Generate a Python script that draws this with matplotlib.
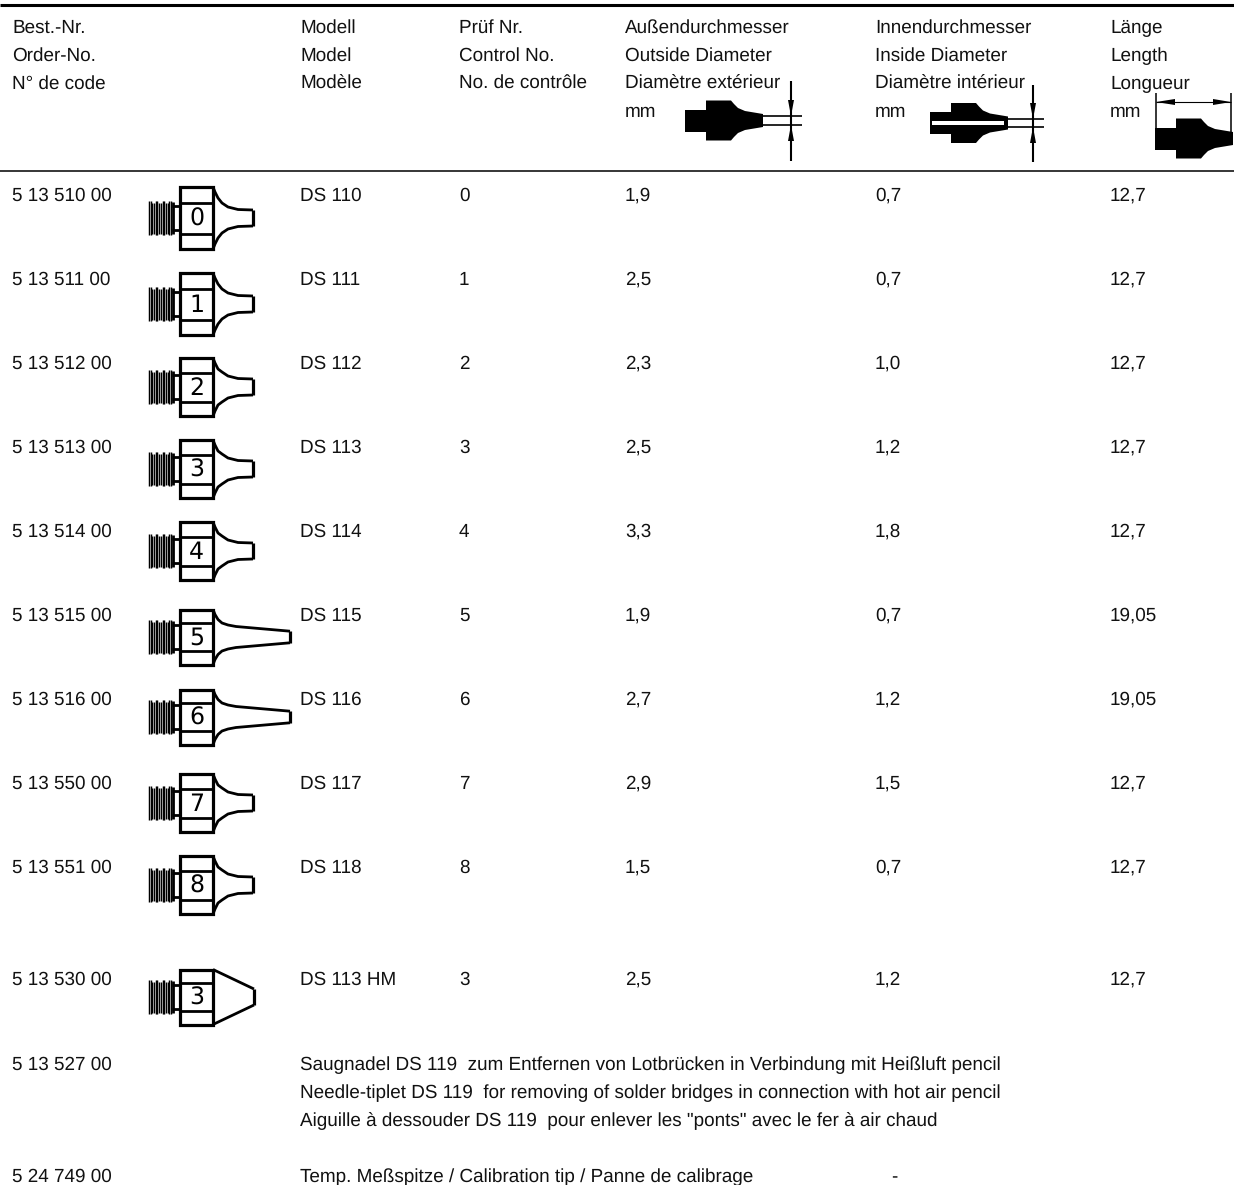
#!/usr/bin/env python3
import numpy as np
from matplotlib import pyplot as plt

plt.rcParams["font.family"] = ["Liberation Sans", "DejaVu Sans"]
plt.rcParams["text.hinting"] = "no_hinting"

W, H = 1234, 1185
FS = 13.58
COLUMNS = [12, 300, 459, 625, 875, 1110]

header_order = ["Best.-Nr.", "Order-No.", "N° de code"]
header_model = ["Modell", "Model", "Modèle"]
header_control = ["Prüf Nr.", "Control No.", "No. de contrôle"]
header_outer = ["Außendurchmesser", "Outside Diameter", "Diamètre extérieur", "mm"]
header_inner = ["Innendurchmesser", "Inside Diameter", "Diamètre intérieur", "mm"]
header_length = ["Länge", "Length", "Longueur", "mm"]

order_no = ["5 13 510 00", "5 13 511 00", "5 13 512 00", "5 13 513 00", "5 13 514 00",
            "5 13 515 00", "5 13 516 00", "5 13 550 00", "5 13 551 00", "5 13 530 00"]
models = ["DS 110", "DS 111", "DS 112", "DS 113", "DS 114",
          "DS 115", "DS 116", "DS 117", "DS 118", "DS 113 HM"]
control = ["0", "1", "2", "3", "4", "5", "6", "7", "8", "3"]
outer = ["1,9", "2,5", "2,3", "2,5", "3,3", "1,9", "2,7", "2,9", "1,5", "2,5"]
inner = ["0,7", "0,7", "1,0", "1,2", "1,8", "0,7", "1,2", "1,5", "0,7", "1,2"]
length = ["12,7", "12,7", "12,7", "12,7", "12,7", "19,05", "19,05", "12,7", "12,7", "12,7"]

row_y = [196, 280, 364, 448, 532, 616, 700, 784, 868, 980]
header_y = [28, 56, 84, 112]
nozzle_y = [218, 304, 387, 469, 551, 637, 717, 803, 885, 997]
nozzle_half = [31, 31, 29, 29, 29, 27.5, 27.5, 29, 29, 27.5]
nozzle_kind = ["short", "short", "short", "short", "short",
               "long", "long", "short", "short", "cone"]

needle_order = "5 13 527 00"
needle_lines = ["Saugnadel DS 119  zum Entfernen von Lotbrücken in Verbindung mit Heißluft pencil",
                "Needle-tiplet DS 119  for removing of solder bridges in connection with hot air pencil",
                'Aiguille à dessouder DS 119  pour enlever les "ponts" avec le fer à air chaud']
needle_y = [1065, 1093, 1121]
calib_order = "5 24 749 00"
calib_text = "Temp. Meßspitze / Calibration tip / Panne de calibrage"
calib_dash = "-"
calib_y = 1177

fig = plt.figure(figsize=(W / 100, H / 100), dpi=100)
ax = fig.add_axes([0, 0, 1, 1])
ax.set_xlim(0, W)
ax.set_ylim(H, 0)
ax.axis("off")


def put(x, y, s):
    ax.text(x, y, s, fontsize=FS, ha="left", va="center", color="#111111")


def line(xs, ys, lw=2.0):
    ax.plot(xs, ys, color="black", lw=lw, solid_capstyle="butt", solid_joinstyle="round")


def nozzle(cy, half, kind, label):
    # thread
    for k, tx in enumerate(np.arange(149, 172.5, 1.7)):
        reach = 17 if k % 4 < 2 else 15.5
        line([tx, tx], [cy - reach, cy + reach], lw=1.05)
    line([172.5, 172.5], [cy - 16, cy + 16], lw=2.0)
    # neck and hex body
    line([172, 179], [cy - 12, cy - 12])
    line([172, 179], [cy + 12, cy + 12])
    ax.add_patch(plt.Rectangle((179.5, cy - half), 33, 2 * half, fill=False, ec="black", lw=2.3))
    line([180, 213], [cy - half * 0.5, cy - half * 0.5])
    line([180, 213], [cy + half * 0.5, cy + half * 0.5])
    # tip outline
    if kind == "cone":
        top_x = [213, 254]
        top_y = [cy - half, cy - 8]
    elif kind == "long":
        top_x = [213, 215, 218, 222, 228, 236, 290]
        top_y = [cy - half, cy - half + 5, cy - half + 10, cy - 14, cy - 12, cy - 10.5, cy - 5.8]
    else:
        top_x = [213, 215, 218, 222, 228, 238, 253]
        top_y = [cy - half, cy - half + 5, cy - half + 11, cy - 15, cy - 11, cy - 8.5, cy - 8]
    top_x, top_y = np.array(top_x), np.array(top_y)
    line(top_x, top_y)
    line(top_x, 2 * cy - top_y)
    line([top_x[-1], top_x[-1]], [top_y[-1], 2 * cy - top_y[-1]], lw=2.3)
    ax.text(196.5, cy + 1.5, label, fontsize=17, ha="center", va="center", color="black",
            family="DejaVu Sans")


def silhouette(x0, cy, half_end=6.5):
    ax.add_patch(plt.Rectangle((x0, cy - 11), 22, 22, color="black", lw=0))
    xs = np.array([x0 + 21, x0 + 22, x0 + 46, x0 + 49, x0 + 53, x0 + 60, x0 + 78])
    ys = np.array([20, 20, 20, 16.5, 12.5, 9.5, half_end])
    ax.fill(np.r_[xs, xs[::-1]], np.r_[cy - ys, cy + ys[::-1]], color="black", lw=0)


def spike(x, y_base, y_tip):
    # thick arrow on a dimension line, drawn as a thin triangle
    ax.fill([x - 3, x + 3, x], [y_base, y_base, y_tip], color="black", lw=0)


def spike_h(x_base, x_tip, y):
    ax.fill([x_base, x_base, x_tip], [y - 3, y + 3, y], color="black", lw=0)


# rules
line([0, W], [5, 5], lw=2.2)
line([0, W], [171, 171], lw=1.1)

# header text
for col, rows in zip(COLUMNS, [header_order, header_model, header_control,
                               header_outer, header_inner, header_length]):
    for y, s in zip(header_y, rows):
        put(col, y, s)

# outside diameter drawing
silhouette(685, 120.5)
line([763, 802], [116, 116], lw=1.2)
line([763, 802], [125, 125], lw=1.2)
line([791, 791], [81, 161], lw=1.5)
spike(791, 100, 116)
spike(791, 141, 125)

# inside diameter drawing
silhouette(930, 123)
ax.add_patch(plt.Rectangle((932, 121), 72, 4, color="white", lw=0))
line([1007, 1044], [119, 119], lw=1.2)
line([1007, 1044], [127, 127], lw=1.2)
line([1033, 1033], [85, 162], lw=1.5)
spike(1033, 103, 119)
spike(1033, 143, 127)

# length drawing
silhouette(1155, 138.5)
line([1156, 1156], [93, 128], lw=1.1)
line([1231, 1231], [93, 132], lw=1.1)
line([1156, 1231], [102, 102], lw=0.8)
spike_h(1175, 1156, 102)
spike_h(1213, 1231, 102)

# table rows
for i, y in enumerate(row_y):
    put(COLUMNS[0], y, order_no[i])
    put(COLUMNS[1], y, models[i])
    put(COLUMNS[2], y, control[i])
    put(COLUMNS[3], y, outer[i])
    put(COLUMNS[4], y, inner[i])
    put(COLUMNS[5], y, length[i])
    nozzle(nozzle_y[i], nozzle_half[i], nozzle_kind[i], control[i])

put(COLUMNS[0], needle_y[0], needle_order)
for y, s in zip(needle_y, needle_lines):
    put(COLUMNS[1], y, s)
put(COLUMNS[0], calib_y, calib_order)
put(COLUMNS[1], calib_y, calib_text)
put(891, calib_y, calib_dash)

fig.savefig("out.png", dpi=100)
